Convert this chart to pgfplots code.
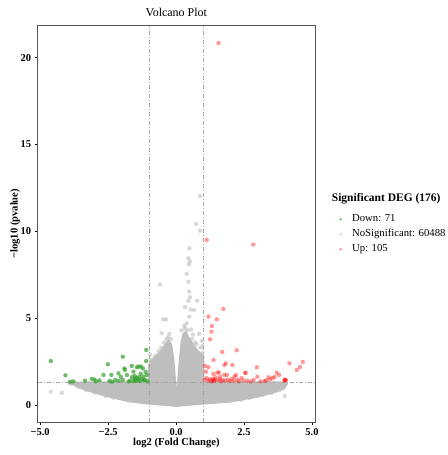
\documentclass[border=0pt]{standalone}
\usepackage{fontspec}
\setmainfont{Liberation Serif}
\usepackage{pgfplots}
\pgfplotsset{compat=1.18}
\usetikzlibrary{calc}
\definecolor{downgreen}{HTML}{33A02C}
\definecolor{upred}{HTML}{FF0000}
\definecolor{nsgray}{HTML}{BEBEBE}
\definecolor{refline}{HTML}{A6A6A6}
\definecolor{framegray}{HTML}{555555}

\begin{document}
\begin{tikzpicture}
\begin{axis}[
    name=ax,
    scale only axis,
    width=277.3pt, height=396.3pt,
    xmin=-5.09, xmax=5.11,
    ymin=-0.98, ymax=21.84,
    xtick={-5,-2.5,0,2.5,5},
    xticklabels={−5.0,−2.5,0.0,2.5,5.0},
    ytick={0,5,10,15,20},
    yticklabels={0,5,10,15,20},
    xtick pos=bottom, ytick pos=left,
    tick align=outside,
    major tick length=3pt,
    major tick style={black, line width=0.6pt},
    axis line style={framegray, line width=0.9pt},
    ticklabel style={font=\bfseries\fontsize{10.5}{12}\selectfont},
    title={Volcano Plot},
    title style={at={(axis description cs:0.5,1)}, anchor=base, yshift=3pt, font=\fontsize{12}{14}\selectfont},
    xlabel={log2 (Fold Change)},
    ylabel={−log10 (pvalue)},
    label style={font=\bfseries\fontsize{10.6}{12}\selectfont},
    xlabel style={at={(axis description cs:0.5,0)}, anchor=base, yshift=-23pt},
    ylabel style={at={(axis description cs:-0.0721,0.5)}, anchor=base, rotate=0},
    legend style={at={(axis description cs:1.087,0.523)}, anchor=north west,
        draw=none, fill=none, inner sep=0pt, outer sep=0pt,
        font=\fontsize{10.7}{12}\selectfont, row sep=6pt,
        nodes={inner sep=0pt, text height=7pt, text depth=2pt},
        /tikz/every odd column/.style={column sep=10pt}},
    legend cell align=left,
    legend image code/.code={\draw[#1] plot coordinates {(0pt,0pt)};},
    clip=true,
]
% dense body of the non-significant genes
\addplot[fill=nsgray, draw=nsgray, line width=2pt, line join=round, forget plot] coordinates {
    (-3.95,1.30) (-3.5,1.28) (-2.5,1.30) (-1.0,1.30) (-1.0,2.3) (-0.85,2.6)
    (-0.6,3.0) (-0.4,3.45) (-0.28,3.7) (-0.18,3.5) (-0.1,2.6) (0.0,0.7)
    (0.04,0.7) (0.14,2.6) (0.2,3.6) (0.27,4.1) (0.35,4.2) (0.45,3.9)
    (0.6,3.5) (0.8,3.1) (1.0,2.8) (1.0,1.30) (3.9,1.30) (4.08,1.22)
    (3.98,1.0) (3.7,0.78) (3.0,0.48) (2.0,0.2) (1.0,0.08) (0.0,-0.05)
    (-1.0,0.08) (-1.7,0.2) (-2.2,0.38) (-2.9,0.67) (-3.4,0.92) (-3.7,1.12)
} -- cycle;
% scattered non-significant genes
\addplot[only marks, mark=*, mark size=2.2pt, mark options={draw opacity=0, fill=nsgray, fill opacity=0.6}, forget plot] coordinates {
    (0.88,12.04) (0.74,10.43) (0.88,10.04) (0.49,9.02) (0.45,8.45) (0.51,8.26)
    (0.47,8.1) (0.39,7.55) (0.45,7.1) (-0.59,6.95) (0.48,6.53) (0.51,6.2)
    (0.45,6.0) (0.78,6.01) (0.33,5.63) (0.53,5.5) (0.66,5.47) (0.49,5.09)
    (-0.47,4.93) (-0.37,4.93) (0.39,4.7) (-0.53,4.13) (0.33,4.4) (0.30,4.55)
    (0.55,4.35) (0.62,4.05) (0.85,4.1) (0.95,3.7) (0.2,4.3) (-0.3,3.9)
    (-0.25,4.1) (-0.7,2.5) (-0.8,2.7) (-0.95,2.9) (-0.55,3.3) (0.75,3.5)
    (0.9,3.3) (-0.2,3.8) (-4.61,0.77) (-4.2,0.71) (4.0,0.52)
    (-3.9,1.22) (-3.6,1.05) (-3.3,0.85) (-3.0,0.72) (-2.6,0.52) (-2.3,0.42)
    (3.95,0.95) (3.8,0.85) (3.5,0.7) (3.2,0.58) (2.7,0.4) (2.4,0.3)
    (0.98,3.0) (0.92,2.9) (-0.9,2.5) (-0.75,2.85) (-0.45,3.6) (-0.35,3.8)
    (0.42,4.3) (0.58,3.8) (0.7,3.6) (-0.65,3.1) (-0.95,2.6) (0.97,3.4)
    (-3.75,1.28) (-3.2,1.26) (-2.8,1.27) (3.6,1.28) (3.3,1.29)
};
% Down
\addplot[only marks, mark=*, mark size=2.2pt, mark options={draw opacity=0, fill=downgreen, fill opacity=0.7}, forget plot] coordinates {
    (-4.61,2.53) (-4.07,1.71) (-3.90,1.34) (-3.78,1.36) (-3.35,1.40) (-3.00,1.47)
    (-2.82,1.42) (-2.67,1.73) (-2.51,2.34) (-2.38,1.73) (-2.36,1.34) (-2.24,1.44)
    (-2.12,1.82) (-2.11,1.40) (-2.03,1.63) (-1.96,2.78) (-1.96,1.44) (-1.90,2.10)
    (-1.88,2.02) (-1.81,1.73) (-1.69,1.40) (-1.63,2.25) (-1.57,1.92) (-1.53,1.46)
    (-1.50,1.52) (-1.47,1.40) (-1.44,2.17) (-1.44,1.56) (-1.40,1.45) (-1.38,2.21)
    (-1.35,1.62) (-1.32,1.38) (-1.29,2.21) (-1.26,1.50) (-1.22,2.10) (-1.20,1.63)
    (-1.18,1.42) (-1.14,1.44) (-1.12,1.90) (-1.10,3.17) (-1.10,2.53) (-1.08,1.73)
    (-1.05,1.36) (-1.56,1.36) (-1.62,1.60) (-1.75,1.35) (-2.45,1.38) (-3.10,1.50)
    (-2.95,1.36) (-1.30,1.80) (-1.52,1.68)
};
% Up
\addplot[only marks, mark=*, mark size=2.2pt, mark options={draw opacity=0, fill=upred, fill opacity=0.4}, forget plot] coordinates {
    (1.56,20.84) (1.13,9.50) (2.84,9.24) (1.74,5.53) (1.19,5.09) (1.50,4.93)
    (1.32,4.55) (1.30,4.22) (1.25,3.78) (2.23,3.15) (1.70,3.05) (1.38,2.59)
    (4.66,2.48) (4.17,2.40) (4.56,2.19) (4.44,2.02) (2.97,2.17) (1.83,2.40)
    (1.78,2.30) (2.07,2.30) (1.07,2.25) (1.19,2.17) (1.10,1.92) (1.37,1.79)
    (1.52,1.87) (1.58,1.87) (1.77,1.73) (1.87,1.73) (2.20,1.73) (2.54,1.86)
    (2.56,1.84) (2.99,1.63) (3.70,1.86) (3.79,1.73) (3.40,1.60) (3.55,1.55)
    (3.62,1.62) (4.04,1.44) (4.02,1.40) (4.00,1.46) (3.98,1.42) (1.05,1.45)
    (1.12,1.55) (1.18,1.40) (1.24,1.48) (1.30,1.36) (1.36,1.42) (1.40,1.38)
    (1.45,1.60) (1.52,1.42) (1.60,1.48) (1.66,1.36) (1.72,1.44) (1.80,1.40)
    (1.90,1.46) (1.98,1.38) (2.05,1.50) (2.12,1.40) (2.25,1.45) (2.32,1.36)
    (2.40,1.55) (2.48,1.42) (2.62,1.40) (2.75,1.35) (2.85,1.45) (3.10,1.36)
    (3.25,1.38) (3.32,1.42) (3.46,1.48) (1.42,1.46) (1.34,1.50) (2.15,1.62)
    (1.62,1.62)
};
% thresholds
\addplot[refline, line width=0.7pt, dash pattern=on 4pt off 2pt on 1pt off 2pt, forget plot] coordinates {(-1,-0.98) (-1,21.84)};
\addplot[refline, line width=0.7pt, dash pattern=on 4pt off 2pt on 1pt off 2pt, forget plot] coordinates {(1,-0.98) (1,21.84)};
\addplot[refline, line width=0.7pt, dash pattern=on 4pt off 2pt on 1pt off 2pt, forget plot] coordinates {(-5.09,1.301) (5.11,1.301)};

\addlegendimage{only marks, mark=*, mark size=1.5pt, mark options={draw opacity=0, fill=downgreen, fill opacity=0.6}}
\addlegendentry{Down: 71}
\addlegendimage{only marks, mark=*, mark size=1.5pt, mark options={draw opacity=0, fill=nsgray, fill opacity=0.5}}
\addlegendentry{NoSignificant: 60488}
\addlegendimage{only marks, mark=*, mark size=1.5pt, mark options={draw opacity=0, fill=upred, fill opacity=0.4}}
\addlegendentry{Up: 105}
\end{axis}
\node[anchor=base west, inner sep=0pt, font=\bfseries\fontsize{11.5}{13}\selectfont]
    at ($(ax.south west)+(294pt,220pt)$) {Significant DEG (176)};
\pgfresetboundingbox
\path[use as bounding box] ($(ax.south west)+(-37.7pt,-33pt)$) rectangle ($(ax.north east)+(132pt,25.7pt)$);
\end{tikzpicture}
\end{document}
